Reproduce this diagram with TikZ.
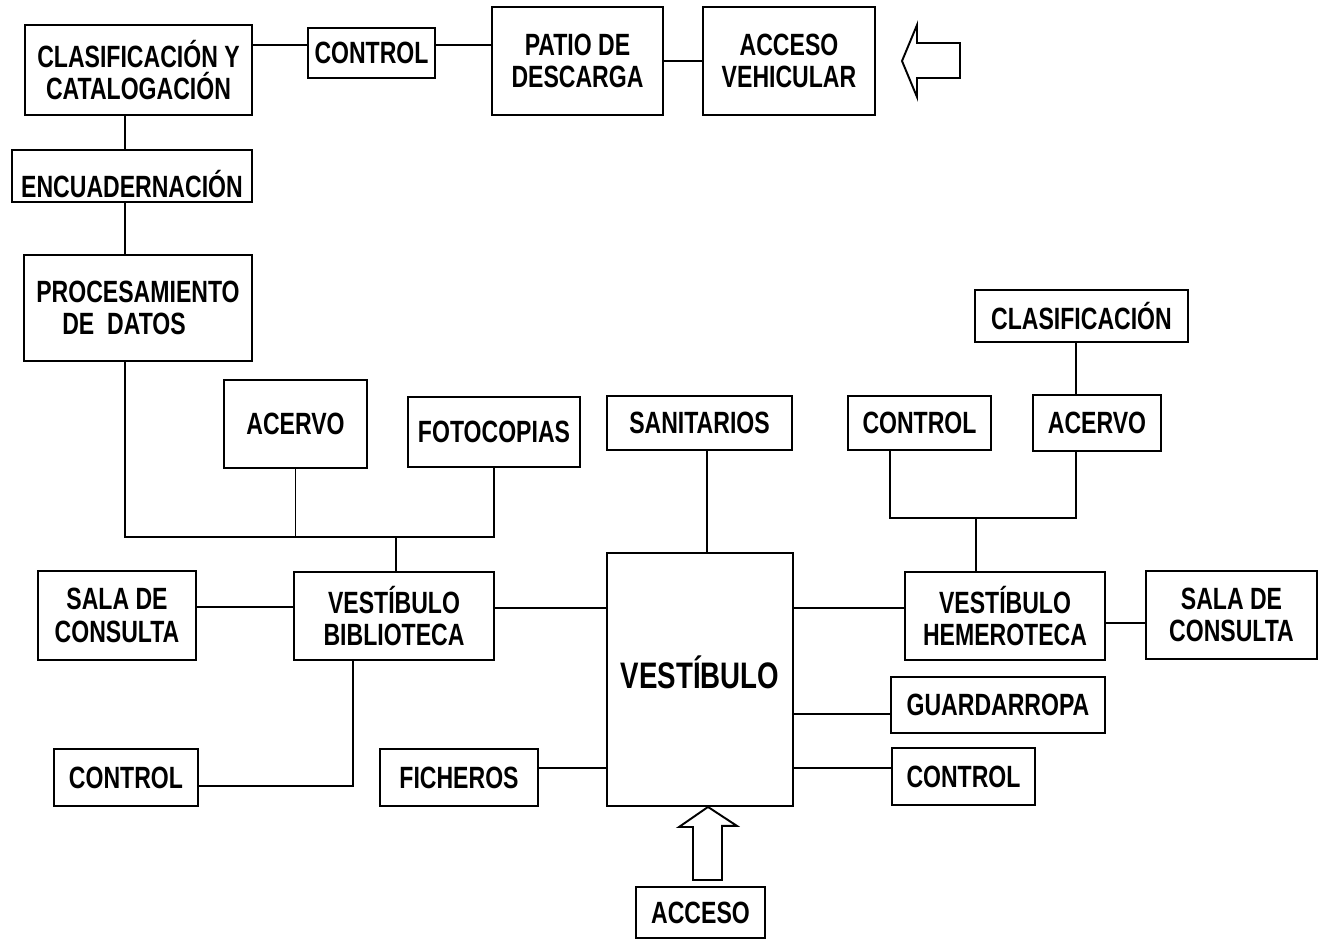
\documentclass[tikz,border=0pt]{standalone}
\usepackage{fontspec}
\setmainfont[FakeStretch=0.75]{Liberation Sans}
\usepackage{tikz}

\begin{document}
\begin{tikzpicture}[
                    x=0.02cm,
                    y=-0.02cm,
                    line width=1.1pt,
                    caja/.style={draw, inner sep=0pt, align=center,
                                 font=\bfseries\fontsize{17.5}{18.5}\selectfont},
                    tam/.style 2 args={minimum width=#1cm, minimum height=#2cm}
                ]
                \useasboundingbox (0,0) rectangle (1322,942);

                % zona de carga
                \node[caja, tam={4.54}{1.8}] (clasif) at (138.5,70) {CLASIFICACIÓN Y\\CATALOGACIÓN};
                \node[caja, tam={2.54}{1.0}] (ctrlA) at (371.5,53) {CONTROL};
                \node[caja, tam={3.42}{2.16}] (patio) at (577.5,61) {PATIO DE\\DESCARGA};
                \node[caja, tam={3.44}{2.16}] (accveh) at (789,61) {ACCESO\\VEHICULAR};
                \node[caja, tam={4.8}{1.04}] (encuad) at (132,176) {\smash{\raisebox{-12pt}{ENCUADERNACIÓN}}};
                \node[caja, tam={4.56}{2.12}, align=left] (proc) at (138,308) {PROCESAMIENTO\\\hspace*{0.52cm}DE~~DATOS};

                % biblioteca
                \node[caja, tam={2.86}{1.76}] (acervoA) at (295.5,424) {ACERVO};
                \node[caja, tam={3.44}{1.4}] (fotoc) at (494,432) {FOTOCOPIAS};
                \node[caja, tam={4.0}{1.76}] (vbib) at (394,616) {VESTÍBULO\\BIBLIOTECA};
                \node[caja, tam={3.16}{1.78}] (salaA) at (117,615.5) {SALA DE\\CONSULTA};
                \node[caja, tam={2.88}{1.14}] (ctrlC) at (126,777.5) {CONTROL};
                \node[caja, tam={3.16}{1.14}] (fich) at (459,777.5) {FICHEROS};

                % vestibulo general
                \node[caja, tam={3.7}{1.08}] (sanit) at (699.5,423) {SANITARIOS};
                \node[caja, tam={3.72}{5.06}, font=\bfseries\fontsize{21}{22}\selectfont] (vest) at (700,679.5) {\raisebox{8pt}{VESTÍBULO}};
                \node[caja, tam={2.58}{1.02}] (acceso) at (700.5,912.5) {ACCESO};

                % hemeroteca
                \node[caja, tam={4.26}{1.04}] (clasifB) at (1081.5,316) {\raisebox{-5pt}{CLASIFICACIÓN}};
                \node[caja, tam={2.86}{1.08}] (ctrlB) at (919.5,423) {CONTROL};
                \node[caja, tam={2.56}{1.12}] (acervoB) at (1097,423) {ACERVO};
                \node[caja, tam={4.0}{1.76}] (vhem) at (1005,616) {VESTÍBULO\\HEMEROTECA};
                \node[caja, tam={3.42}{1.76}] (salaB) at (1231.5,615) {SALA DE\\CONSULTA};
                \node[caja, tam={4.28}{1.12}] (guard) at (998,705) {\raisebox{-4pt}{GUARDARROPA}};
                \node[caja, tam={2.86}{1.14}] (ctrlD) at (963.5,776.5) {\raisebox{-4pt}{CONTROL}};

                \coordinate (nudoA) at (396,537);
                \coordinate (nudoB) at (976,518);

                \draw (clasif.east |- 0,45) -- (ctrlA.west |- 0,45);
                \draw (ctrlA.east |- 0,45) -- (patio.west |- 0,45);
                \draw (patio) -- (accveh);
                \draw (clasif.south -| 125,0) -- (encuad.north -| 125,0);
                \draw (encuad.south -| 125,0) -- (proc.north -| 125,0);
                \draw (proc.south -| 125,0) -- (125,537) -- (fotoc.south |- nudoA) -- (fotoc.south);
                \draw (acervoA.south) -- (acervoA.south |- nudoA);
                \draw (nudoA) -- (vbib.north -| nudoA);
                \draw (salaA.east |- 0,607) -- (vbib.west |- 0,607);
                \draw (vbib.east |- 0,608) -- (vest.west |- 0,608);
                \draw (vbib.south -| 353,0) -- (353,786) -- (ctrlC.east |- 0,786);
                \draw (fich.east |- 0,768) -- (vest.west |- 0,768);
                \draw (sanit.south -| 707,0) -- (vest.north -| 707,0);
                \draw (vest.east |- 0,608) -- (vhem.west |- 0,608);
                \draw (vest.east |- 0,714) -- (guard.west |- 0,714);
                \draw (vest.east |- 0,768) -- (ctrlD.west |- 0,768);
                \draw (vhem.east |- 0,623) -- (salaB.west |- 0,623);
                \draw (clasifB.south -| 1076,0) -- (acervoB.north -| 1076,0);
                \draw (ctrlB.south -| 890,0) -- (890,518) -- (1076,518) -- (acervoB.south -| 1076,0);
                \draw (nudoB) -- (vhem.north -| nudoB);

                % flechas de acceso
                \draw (902,61) -- (917,25) -- (917,43) -- (960,43) -- (960,78) -- (917,78) -- (917,97) -- cycle;
                \draw (vest.south -| 708,0) -- ++(29,19) -- ++(-15,0) -- (722,880) -- (693,880) -- (693,827) -- (679,827) -- cycle;
            \end{tikzpicture}
\end{document}
